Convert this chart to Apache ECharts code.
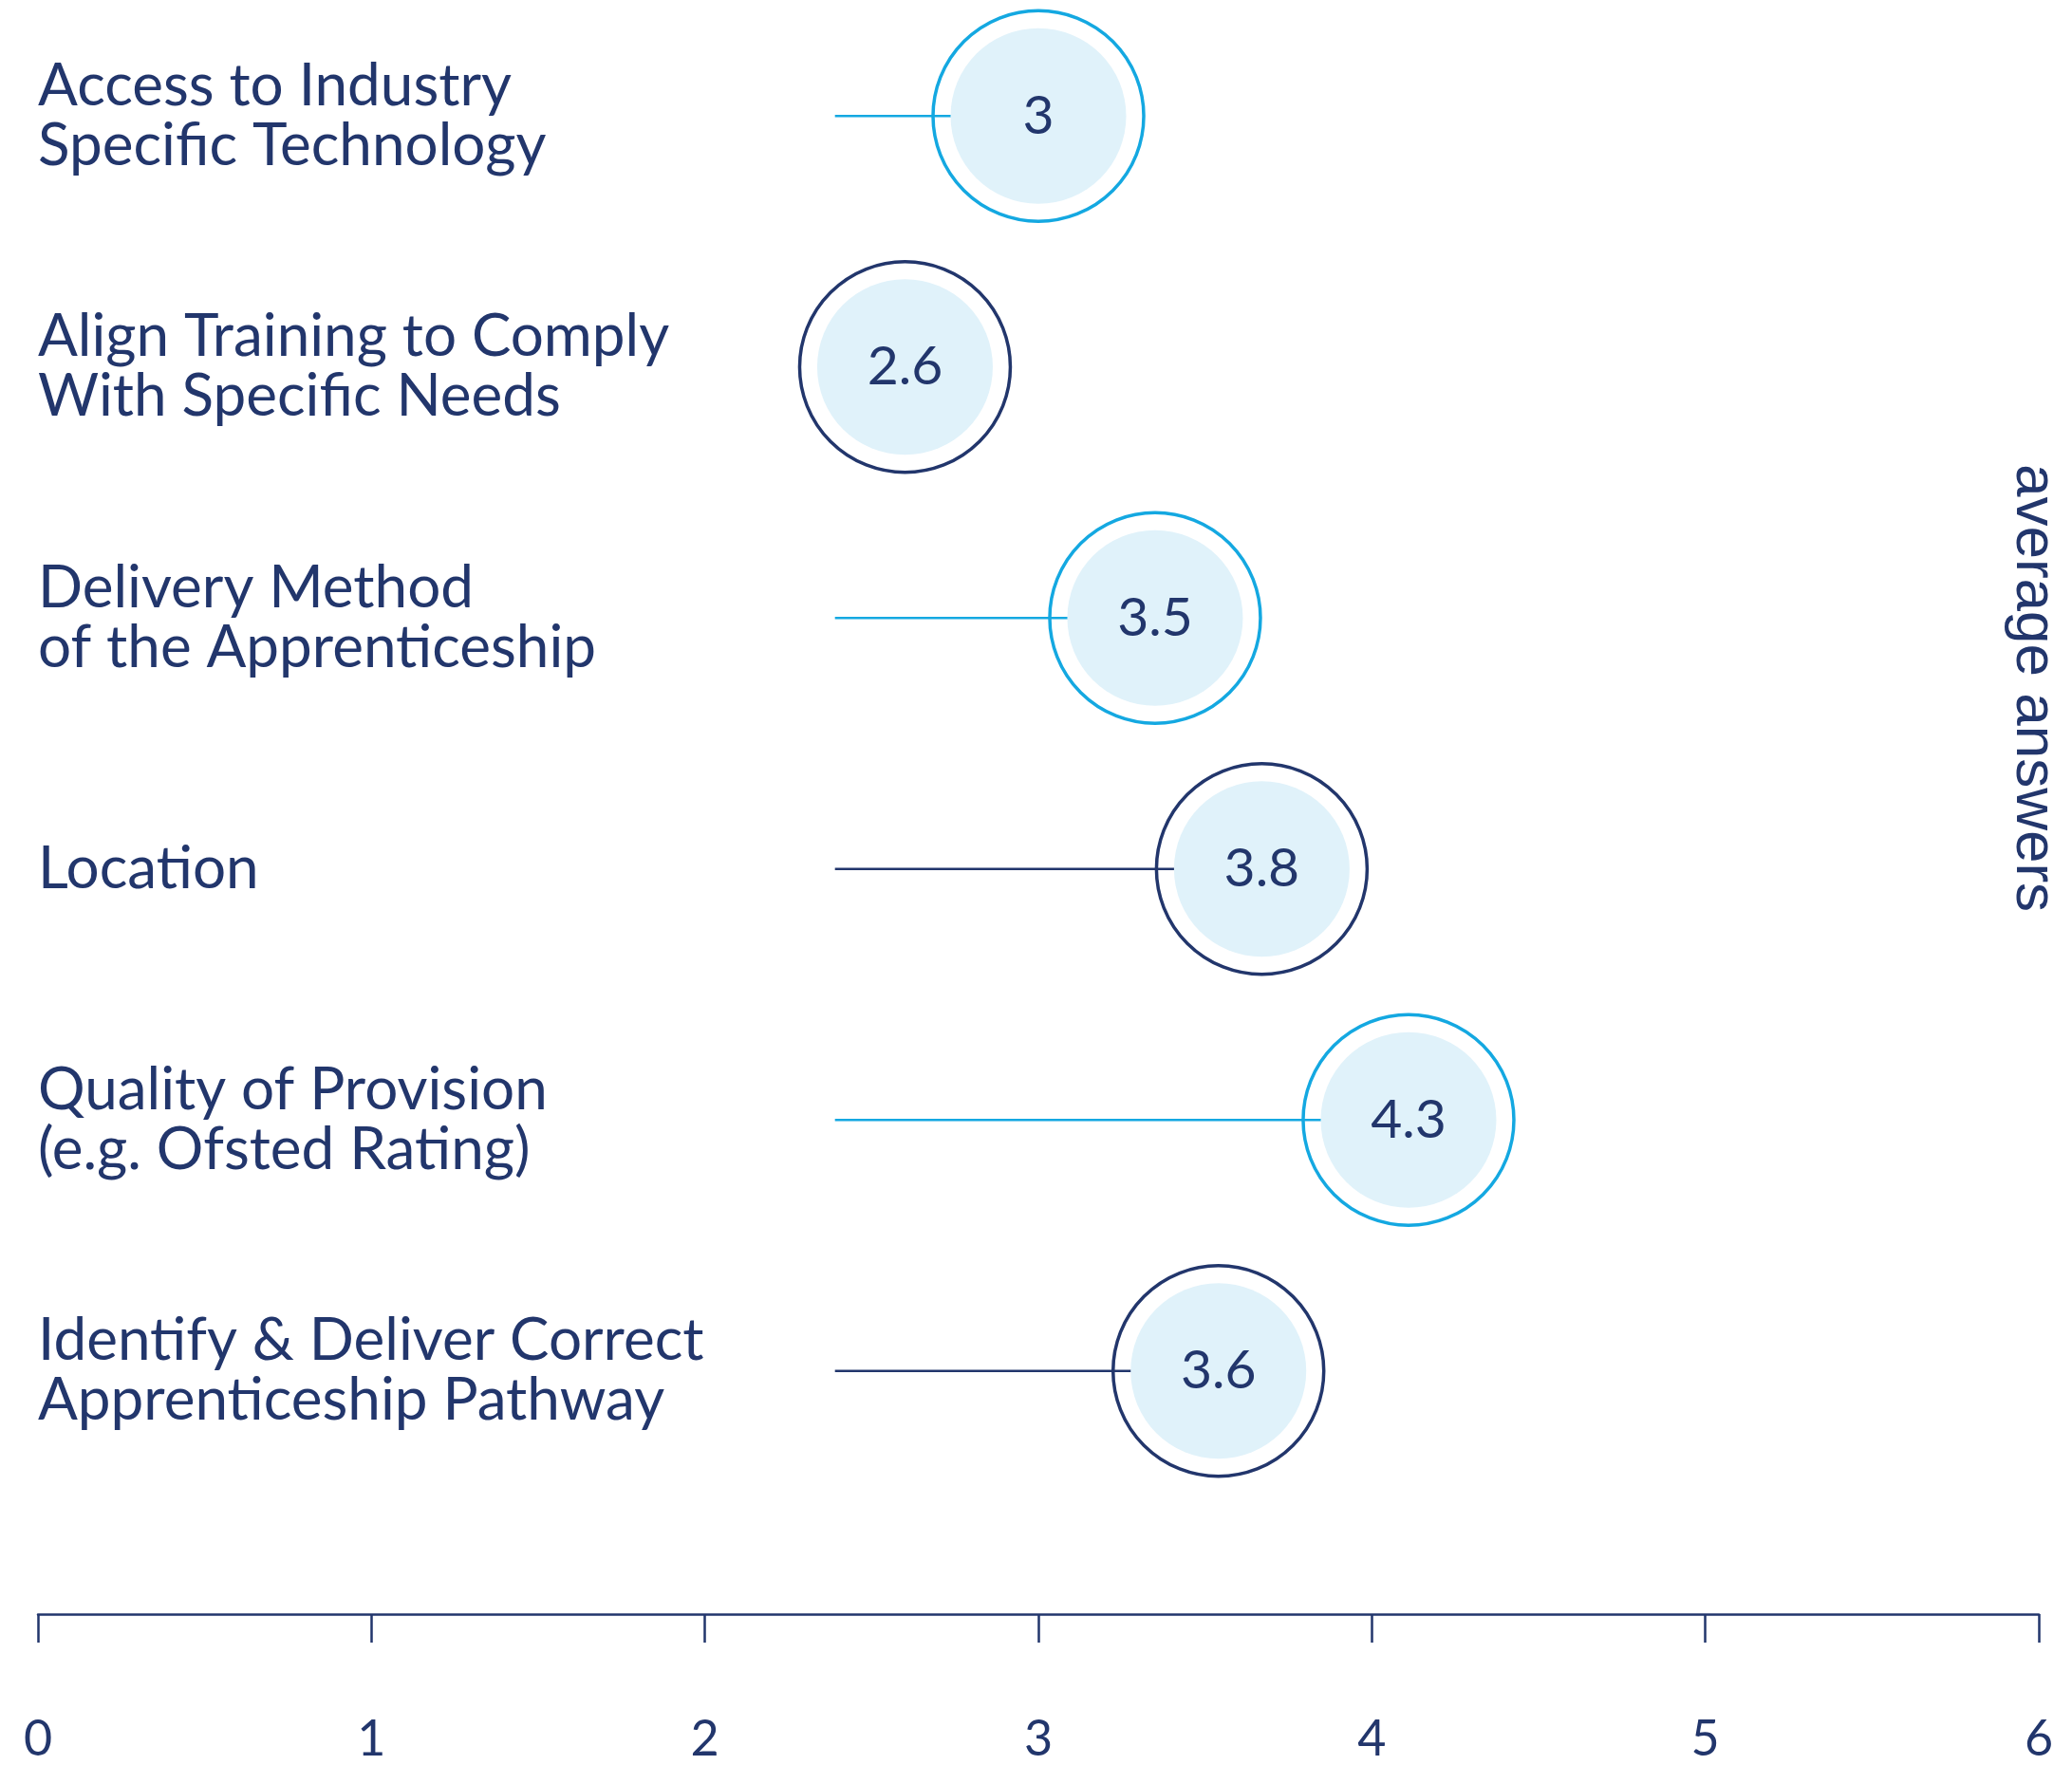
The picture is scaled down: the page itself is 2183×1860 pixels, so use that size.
<!DOCTYPE html>
<html>
<head>
<meta charset="utf-8">
<script src="https://cdn.jsdelivr.net/npm/echarts@6/dist/echarts.min.js"></script>
<style>
  html, body { margin: 0; padding: 0; background: #fff; }
  #chart { width: 2183px; height: 1860px; }
</style>
</head>
<body>
<div id="chart"></div>
<script>
var categories = [
	'Access to Industry\nSpecific Technology',
	'Align Training to Comply\nWith Specific Needs',
	'Delivery Method\nof the Apprenticeship',
	'Location',
	'Quality of Provision\n(e.g. Ofsted Rating)',
	'Identify & Deliver Correct\nApprenticeship Pathway'
];
// average answer printed in each bubble
var scores = [3, 2.6, 3.5, 3.8, 4.3, 3.6];
// where each bubble actually sits on the 0-6 axis in the picture
var plotAt = [3.0, 2.6, 3.35, 3.67, 4.11, 3.54];
// all stems start at the same axis value
var stemStart = 2.39;
var xTicks = [0, 1, 2, 3, 4, 5, 6];

var NAVY = '#22366c';
var CYAN = '#14a8e1';
var FILL = '#e0f2fa';

function ringColor(i) {
	return i % 2 === 0 ? CYAN : NAVY;
}

var chart = echarts.init(document.getElementById('chart'));

var option = {
	backgroundColor: '#ffffff',
	animation: false,
	grid: {
		left: 40,
		right: 35,
		top: -10,
		bottom: 283,
		outerBoundsMode: 'none'
	},
	xAxis: {
		type: 'value',
		min: xTicks[0],
		max: xTicks[xTicks.length - 1],
		interval: 1,
		offset: 124,
		axisLine: { show: true, lineStyle: { color: NAVY, width: 2.5 } },
		axisTick: { show: true, length: 30, lineStyle: { color: NAVY, width: 2.5 } },
		axisLabel: {
			margin: 106,
			fontFamily: 'Lato',
			fontSize: 52,
			color: NAVY
		},
		splitLine: { show: false }
	},
	yAxis: {
		type: 'category',
		inverse: true,
		data: categories,
		axisLine: { show: false },
		axisTick: { show: false },
		axisLabel: {
			inside: true,
			margin: 0,
			padding: [8, 0, 0, 0],
			fontFamily: 'Lato',
			fontSize: 62,
			lineHeight: 63,
			color: NAVY
		}
	},
	graphic: [{
		type: 'text',
		x: 2142,
		y: 725,
		rotation: -Math.PI / 2,
		style: {
			text: 'average answers',
			fontFamily: 'Liberation Sans',
			fontSize: 62,
			fill: NAVY,
			align: 'center',
			verticalAlign: 'middle'
		}
	}],
	series: [
		{
			// outer white disc with coloured ring
			type: 'scatter',
			z: 2,
			symbol: 'circle',
			symbolSize: 222,
			data: plotAt.map(function (v, i) {
				return {
					value: [v, i],
					itemStyle: { color: '#ffffff', opacity: 1, borderColor: ringColor(i), borderWidth: 3.5 }
				};
			})
		},
		{
			// stems from the left
			type: 'custom',
			z: 3,
			data: plotAt.map(function (v, i) { return [v, i]; }),
			renderItem: function (params, api) {
				var i = api.value(1);
				var a = api.coord([stemStart, i]);
				var b = api.coord([api.value(0), i]);
				return {
					type: 'line',
					shape: { x1: a[0], y1: a[1], x2: b[0], y2: b[1] },
					style: { stroke: ringColor(i), lineWidth: 2.5 }
				};
			}
		},
		{
			// inner light blue disc with value label
			type: 'scatter',
			z: 4,
			symbol: 'circle',
			symbolSize: 185,
			itemStyle: { color: FILL, opacity: 1 },
			label: {
				show: true,
				position: 'inside',
				fontFamily: 'Lato',
				fontSize: 57,
				color: NAVY,
				formatter: function (p) { return String(scores[p.dataIndex]); }
			},
			data: plotAt.map(function (v, i) { return [v, i]; })
		}
	]
};

chart.setOption(option);
</script>
</body>
</html>
